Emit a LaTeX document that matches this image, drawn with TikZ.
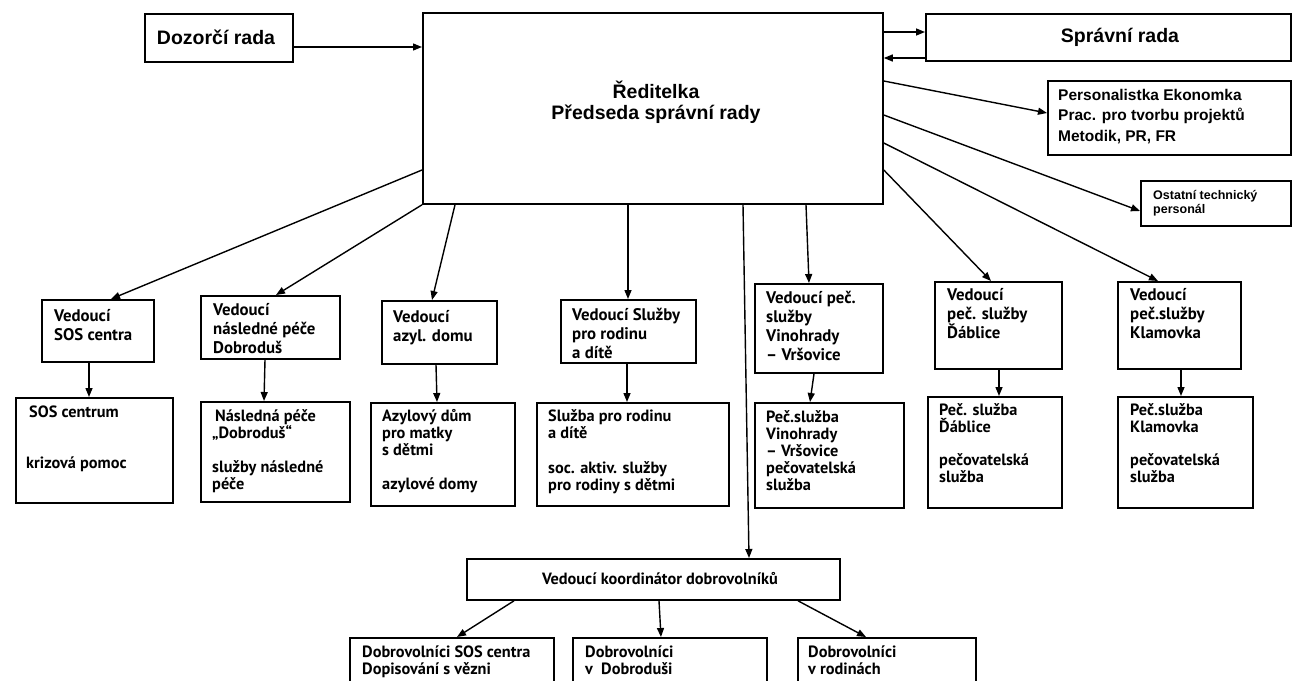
\documentclass[tikz,border=0pt]{standalone}
\usepackage{fontspec}
\setmainfont{Liberation Sans}
\newfontfamily\ptsans{PT Sans}
\usetikzlibrary{arrows.meta,calc}
\newcommand\fbig{\fontsize{19.5}{21}\selectfont\bfseries}
\newcommand\fmid{\fontsize{15.5}{20.5}\selectfont\bfseries}
\newcommand\fsm{\fontsize{12.5}{14}\selectfont\bfseries}
\newcommand\flow{\ptsans\bfseries\fontsize{16.3}{17}\selectfont}
\newcommand\flead{\ptsans\bfseries\fontsize{16.8}{19}\selectfont}
\newcommand\tb[1]{\parbox[t]{300pt}{\raggedright #1}}
\newcommand\bx[5]{\node[box, minimum width={#4-#2}, minimum height={#5-#3}] (#1) at (#2,#3) {};}
\tikzset{
  box/.style={draw, line width=1.8pt, inner sep=0pt, anchor=north west},
  conn/.style={line width=1.4pt, -{Triangle[length=9pt,width=7pt]}},
  tt/.style={anchor=base west, inner sep=0pt},
}
\begin{document}
\begin{tikzpicture}[x=1pt,y=-1pt]
\useasboundingbox (0,0) rectangle (1293,680);
\fill[white] (0,0) rectangle (1293,680);
\clip (0,0) rectangle (1293,680);
% boxes
\bx{doz}{144}{13}{292}{61}
\bx{main}{422}{12}{882}{203}
\bx{spr}{925}{13}{1290}{60}
\bx{pers}{1047}{80}{1290}{154}
\bx{ost}{1140}{180}{1290}{225}
\bx{L1}{41}{299}{153}{361}
\bx{L2}{200}{295}{339}{358}
\bx{L3}{381}{300}{496}{363}
\bx{L4}{560}{299}{695}{362}
\bx{L5}{754}{283}{882}{372}
\bx{L6}{934}{281}{1061}{368}
\bx{L7}{1117}{281}{1240}{368}
\bx{B1}{15}{397}{172}{502}
\bx{B2}{200}{401}{349}{501}
\bx{B3}{370}{402}{514}{505}
\bx{B4}{536}{402}{728}{505}
\bx{B5}{754}{402}{903}{507}
\bx{B6}{927}{396}{1061}{507}
\bx{B7}{1117}{396}{1252}{507}
\bx{C}{466}{558}{839}{599}
\bx{D1}{349}{637}{553}{700}
\bx{D2}{572}{637}{766}{700}
\bx{D3}{797}{637}{975}{700}
% texts
\node[font=\fbig] (doztx) at (216,37) {Dozorčí rada};
\node[font=\fbig, align=center] (maintx) at (656,102) {Ředitelka\\Předseda správní rady};
\node[font=\fbig] (sprtx) at (1120,37) {Správní rada};
\node[tt, font=\fmid] (perstx) at (1058,100) {\tb{Personalistka Ekonomka\\Prac. pro tvorbu projektů\\Metodik, PR, FR}};
\node[tt, font=\fsm] (osttx) at (1153,199) {\tb{Ostatní technický\\personál}};
\node[tt, font=\flead] (L1tx) at (54,321) {\tb{Vedoucí\\SOS centra}};
\node[tt, font=\flead] (L2tx) at (213,315) {\tb{Vedoucí\\následné péče\\Dobroduš}};
\node[tt, font=\flead] (L3tx) at (393,322) {\tb{Vedoucí\\azyl. domu}};
\node[tt, font=\flead] (L4tx) at (572,320) {\tb{Vedoucí Služby\\pro rodinu\\a dítě}};
\node[tt, font=\flead] (L5tx) at (766,303) {\tb{Vedoucí peč.\\služby\\Vinohrady\\– Vršovice}};
\node[tt, font=\flead] (L6tx) at (947,300) {\tb{Vedoucí\\peč. služby\\Ďáblice}};
\node[tt, font=\flead] (L7tx) at (1130,300) {\tb{Vedoucí\\peč.služby\\Klamovka}};
\node[tt, font=\flow] (B1tx) at (29,417) {\tb{SOS centrum}};
\node[tt, font=\flow] (B1tx2) at (26,468) {\tb{krizová pomoc}};
\node[tt, font=\flow] (B2tx) at (212,421) {\tb{\hspace{3pt}Následná péče\\„Dobroduš“\\[17pt]služby následné\\péče}};
\node[tt, font=\flow] (B3tx) at (382,421) {\tb{Azylový dům\\pro matky\\s dětmi\\[17pt]azylové domy}};
\node[tt, font=\flow] (B4tx) at (548,421) {\tb{Služba pro rodinu\\a dítě\\[18pt]soc. aktiv. služby\\pro rodiny s dětmi}};
\node[tt, font=\flow] (B5tx) at (766,422) {\tb{Peč.služba\\Vinohrady\\– Vršovice\\pečovatelská\\služba}};
\node[tt, font=\flow] (B6tx) at (939,415) {\tb{Peč. služba\\Ďáblice\\[16pt]pečovatelská\\služba}};
\node[tt, font=\flow] (B7tx) at (1130,415) {\tb{Peč.služba\\Klamovka\\[16pt]pečovatelská\\služba}};
\node[font=\flow] (Ctx) at (660,579) {Vedoucí koordinátor dobrovolníků};
\node[tt, font=\flow] (D1tx) at (362,657) {\tb{Dobrovolníci SOS centra\\Dopisování s vězni}};
\node[tt, font=\flow] (D2tx) at (585,657) {\tb{Dobrovolníci\\v\ \ Dobroduši}};
\node[tt, font=\flow] (D3tx) at (808,657) {\tb{Dobrovolníci\\v rodinách}};
% connectors
\draw[conn] (doz.east |- 0,47) -- (main.west |- 0,47);
\draw[conn] (main.east |- 0,32) -- (spr.west |- 0,32);
\draw[conn] (spr.west |- 0,58) -- (main.east |- 0,58);
\draw[conn] (main.east |- 0,81) -- (pers.west |- 0,113);
\draw[conn] (main.east |- 0,115) -- (ost.west |- 0,211);
\draw[conn] (main.east |- 0,143) -- (L7.north -| 1158,0);
\draw[conn] (main.east |- 0,170) -- (L6.north -| 991,0);
\draw[conn] (main.west |- 0,170) -- (L1.north -| 111,0);
\draw[conn] (main.south west) -- (L2.north -| 276,0);
\draw[conn] (main.south -| 455,0) -- (L3.north -| 432,0);
\draw[conn] (main.south -| 628,0) -- (L4.north -| 628,0);
\draw[conn] (main.south -| 743,0) -- (C.north -| 749,0);
\draw[conn] (main.south -| 806,0) -- (L5.north -| 809,0);
\draw[conn] (L1.south -| 89,0) -- (B1.north -| 89,0);
\draw[conn] (L2.south -| 265,0) -- (B2.north -| 264,0);
\draw[conn] (L3.south -| 436,0) -- (B3.north -| 437,0);
\draw[conn] (L4.south -| 627,0) -- (B4.north -| 627,0);
\draw[conn] (L5.south -| 814,0) -- (B5.north -| 810,0);
\draw[conn] (L6.south -| 999,0) -- (B6.north -| 999,0);
\draw[conn] (L7.south -| 1181,0) -- (B7.north -| 1181,0);
\draw[conn] (C.south -| 514,0) -- (D1.north -| 457,0);
\draw[conn] (C.south -| 659,0) -- (D2.north -| 661,0);
\draw[conn] (C.south -| 798,0) -- (D3.north -| 866,0);
\end{tikzpicture}
\end{document}
